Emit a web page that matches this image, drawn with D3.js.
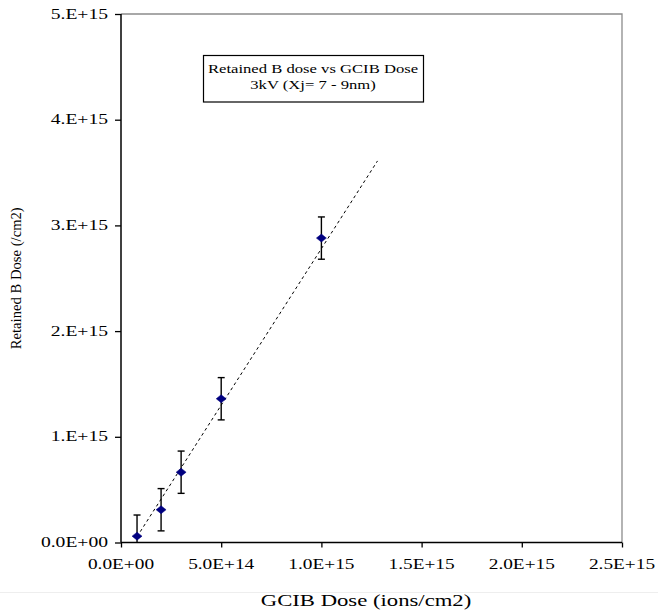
<!DOCTYPE html>
<html>
<head>
<meta charset="utf-8">
<script src="https://cdn.jsdelivr.net/npm/d3@7"></script>
<style>
  body { margin: 0; background: #fff; }
  text { font-family: "Liberation Serif", "Times New Roman", serif; fill: #000; }
</style>
</head>
<body>
<svg id="chart" width="658" height="610"></svg>
<script>
// GCIB dose (ions/cm2) vs retained B dose (/cm2)
var gcibDose = [8e13, 2e14, 3e14, 5e14, 1e15];
var retainedDose = [0.06e15, 0.31e15, 0.665e15, 1.36e15, 2.88e15];
var errDose = [0.2e15, 0.2e15, 0.2e15, 0.2e15, 0.2e15];

// linear trend line endpoints
var trendX = [0.08e15, 1.28e15];
var trendY = [0.055e15, 3.61e15];

var xTicks = [0, 5e14, 1e15, 1.5e15, 2e15, 2.5e15];
var xTickLabels = ["0.0E+00", "5.0E+14", "1.0E+15", "1.5E+15", "2.0E+15", "2.5E+15"];
var yTicks = [0, 1e15, 2e15, 3e15, 4e15, 5e15];
var yTickLabels = ["0.0E+00", "1.E+15", "2.E+15", "3.E+15", "4.E+15", "5.E+15"];

var titleLines = ["Retained B dose vs GCIB Dose", "3kV (Xj= 7 - 9nm)"];

var svg = d3.select("#chart");
var pLeft = 121, pRight = 622, pTop = 14, pBottom = 542.5;

var x = d3.scaleLinear().domain([0, 2.5e15]).range([pLeft, pRight]);
var y = d3.scaleLinear().domain([0, 5e15]).range([pBottom, pTop]);

// text helper: the original has horizontally stretched glyphs
function label(px, py, str, size, sx, anchor) {
  svg.append("text")
    .attr("transform", "translate(" + px + "," + py + ") scale(" + sx + ",1)")
    .attr("text-anchor", anchor)
    .style("font-size", size + "px")
    .text(str);
}

// faint separator line near bottom
svg.append("line")
  .attr("x1", 0).attr("x2", 658).attr("y1", 592.5).attr("y2", 592.5)
  .style("stroke", "#eeeeee").style("stroke-width", 1);

// frame top/right in grey
svg.append("path")
  .attr("d", "M" + pLeft + "," + pTop + "H" + pRight + "V" + pBottom)
  .style("fill", "none").style("stroke", "#8c8c8c").style("stroke-width", 1.3);

// axes
var xAxis = d3.axisBottom(x).tickValues(xTicks).tickSize(5).tickFormat("");
var yAxis = d3.axisLeft(y).tickValues(yTicks).tickSize(6).tickFormat("");

svg.append("g").attr("transform", "translate(0," + pBottom + ")").call(xAxis)
  .call(function(g) {
    g.select(".domain").attr("d", "M" + pLeft + ",0H" + pRight).style("stroke-width", 1.5);
    g.selectAll(".tick line").style("stroke-width", 1.3);
  });
svg.append("g").attr("transform", "translate(" + pLeft + ",0)").call(yAxis)
  .call(function(g) {
    g.select(".domain").attr("d", "M0," + pTop + "V" + pBottom).style("stroke-width", 1.5);
    g.selectAll(".tick line").style("stroke-width", 1.3);
  });

xTicks.forEach(function(t, i) {
  label(x(t), pBottom + 26, xTickLabels[i], 14, 1.38, "middle");
});
yTicks.forEach(function(t, i) {
  label(pLeft - 13, y(t) + 4.5, yTickLabels[i], 14, 1.4, "end");
});

// axis titles
label(366, 606, "GCIB Dose (ions/cm2)", 16, 1.42, "middle");
svg.append("text")
  .attr("transform", "translate(21," + ((pTop + pBottom) / 2) + ") rotate(-90)")
  .attr("text-anchor", "middle")
  .attr("textLength", 142)
  .attr("lengthAdjust", "spacingAndGlyphs")
  .style("font-size", "14px")
  .text("Retained B Dose (/cm2)");

// title box
svg.append("rect")
  .attr("x", 203.5).attr("y", 55.5).attr("width", 220).attr("height", 46.5)
  .style("fill", "#fff").style("stroke", "#000").style("stroke-width", 1.2);
label(313, 73, titleLines[0], 13, 1.28, "middle");
label(313, 89, titleLines[1], 13, 1.28, "middle");

// trend line
svg.append("line")
  .attr("x1", x(trendX[0])).attr("y1", y(trendY[0]))
  .attr("x2", x(trendX[1])).attr("y2", y(trendY[1]))
  .style("stroke", "#000").style("stroke-width", 1)
  .style("stroke-dasharray", "3,3");

// error bars
var pts = gcibDose.map(function(d, i) {
  return { x: d, y: retainedDose[i], e: errDose[i] };
});
var eb = svg.append("g").selectAll("g").data(pts).enter().append("g")
  .style("stroke", "#000").style("stroke-width", 1.4);
eb.append("line")
  .attr("x1", function(d) { return x(d.x); })
  .attr("x2", function(d) { return x(d.x); })
  .attr("y1", function(d) { return y(d.y + d.e); })
  .attr("y2", function(d) { return y(Math.max(0, d.y - d.e)); });
eb.append("line")
  .attr("x1", function(d) { return x(d.x) - 3.5; })
  .attr("x2", function(d) { return x(d.x) + 3.5; })
  .attr("y1", function(d) { return y(d.y + d.e); })
  .attr("y2", function(d) { return y(d.y + d.e); });
eb.filter(function(d) { return d.y - d.e > 0; }).append("line")
  .attr("x1", function(d) { return x(d.x) - 3.5; })
  .attr("x2", function(d) { return x(d.x) + 3.5; })
  .attr("y1", function(d) { return y(d.y - d.e); })
  .attr("y2", function(d) { return y(d.y - d.e); });

// diamond markers
svg.append("g").selectAll("path").data(pts).enter().append("path")
  .attr("d", "M0,-4L5,0L0,4L-5,0Z")
  .attr("transform", function(d) { return "translate(" + x(d.x) + "," + y(d.y) + ")"; })
  .style("fill", "#000080")
  .style("stroke", "#000080")
  .style("stroke-width", 0.5);
</script>
</body>
</html>
